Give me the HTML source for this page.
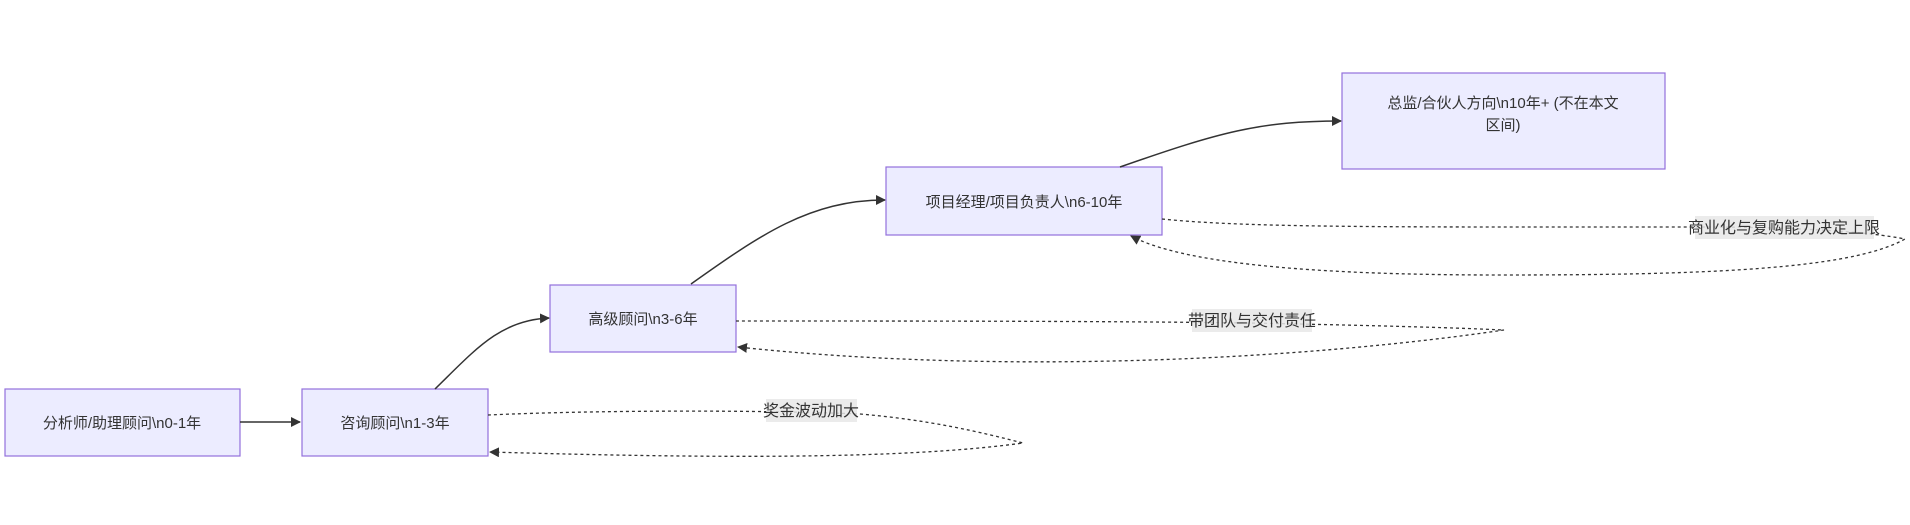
<!DOCTYPE html>
<html><head><meta charset="utf-8"><style>
html,body{margin:0;padding:0;background:#fff;}
svg{display:block;}
text{font-family:"Liberation Sans","Noto Sans CJK SC",sans-serif;font-size:15px;fill:#333;}
</style></head><body>
<svg width="1910" height="525" viewBox="0 0 1910 525" xmlns="http://www.w3.org/2000/svg">
<defs>
<marker id="ah" viewBox="0 0 10 10" refX="9" refY="5" markerWidth="10" markerHeight="10" orient="auto-start-reverse" markerUnits="userSpaceOnUse"><path d="M0,0L10,5L0,10z" fill="#333"/></marker>
</defs>
<g fill="#ECECFF" stroke="#9370DB" stroke-width="1.2">
<rect x="5" y="389" width="235" height="67"/>
<rect x="302" y="389" width="186" height="67"/>
<rect x="550" y="285" width="186" height="67"/>
<rect x="886" y="167" width="276" height="68"/>
<rect x="1342" y="73" width="323" height="96"/>
</g>
<g fill="none" stroke="#333" stroke-width="1.5">
<path d="M240,422 L300,422" marker-end="url(#ah)"/>
<path d="M435,389 C475,350 500,320 549,318" marker-end="url(#ah)"/>
<path d="M691,284 C760,235 810,200 885,200" marker-end="url(#ah)"/>
<path d="M1120,167 C1220,132 1260,121 1341,121" marker-end="url(#ah)"/>
</g>
<g fill="none" stroke="#333" stroke-width="1.3" stroke-dasharray="3,3">
<path d="M488,415 C600,410 760,410 860,414 C930,420 980,432 1023,443 C900,460 700,458 490,452" marker-end="url(#ah)"/>
<path d="M736,321 C900,321 1100,321 1250,323 C1400,326 1460,328 1504,330 C1300,360 1000,375 738,347" marker-end="url(#ah)"/>
<path d="M1162,219 C1250,228 1400,227 1700,227 C1800,227 1870,232 1905,239 C1850,270 1700,275 1500,275 C1300,275 1180,262 1131,236" marker-end="url(#ah)"/>
</g>
<g fill="rgba(232,232,232,0.85)">
<rect x="766" y="399" width="91" height="23"/>
<rect x="1192" y="309" width="120" height="23"/>
<rect x="1695" y="216" width="179" height="23"/>
</g>
<g text-anchor="middle">
<text x="811" y="416" style="font-size:16px">奖金波动加大</text>
<text x="1252" y="326" style="font-size:16px">带团队与交付责任</text>
<text x="1784" y="233" style="font-size:16px">商业化与复购能力决定上限</text>
<text x="122" y="428">分析师/助理顾问\n0-1年</text>
<text x="395" y="428">咨询顾问\n1-3年</text>
<text x="643" y="324">高级顾问\n3-6年</text>
<text x="1024" y="207">项目经理/项目负责人\n6-10年</text>
<text x="1503" y="108">总监/合伙人方向\n10年+ (不在本文</text>
<text x="1503" y="130">区间)</text>
</g>
</svg>
</body></html>
